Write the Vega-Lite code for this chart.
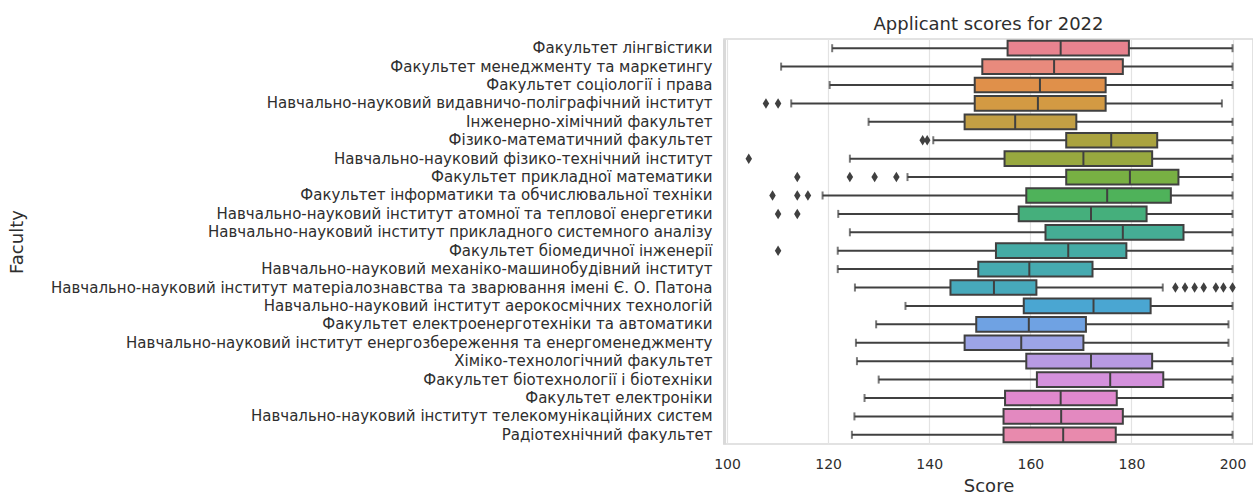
{
  "$schema": "https://vega.github.io/schema/vega-lite/v6.json",
  "autosize": "none",
  "width": 529,
  "height": 405,
  "padding": {"left": 724, "top": 39, "right": 0, "bottom": 50},
  "background": "white",
  "config": {
    "font": "DejaVu Sans",
    "view": {"stroke": "#d9d9d9", "strokeWidth": 1.5},
    "axis": {"labelFont": "DejaVu Sans", "titleFont": "DejaVu Sans", "labelColor": "#2e2e2e", "titleColor": "#2e2e2e", "titleFontWeight": "normal"}
  },
  "title": {"text": "Applicant scores for 2022", "fontSize": 18, "fontWeight": "normal", "color": "#2e2e2e", "font": "DejaVu Sans", "offset": 5},
  "datasets": {
    "boxes": [
      {"faculty": "Факультет лінгвістики", "lower": 120.8, "q1": 155.5, "median": 166.0, "q3": 179.5, "upper": 200},
      {"faculty": "Факультет менеджменту та маркетингу", "lower": 110.7, "q1": 150.5, "median": 164.7, "q3": 178.3, "upper": 200},
      {"faculty": "Факультет соціології і права", "lower": 120.3, "q1": 149.0, "median": 161.9, "q3": 174.9, "upper": 200},
      {"faculty": "Навчально-науковий видавничо-поліграфічний інститут", "lower": 112.7, "q1": 149.0, "median": 161.5, "q3": 174.9, "upper": 197.9},
      {"faculty": "Інженерно-хімічний факультет", "lower": 128.0, "q1": 147.0, "median": 157.0, "q3": 169.1, "upper": 200},
      {"faculty": "Фізико-математичний факультет", "lower": 140.8, "q1": 167.1, "median": 176.0, "q3": 185.1, "upper": 200},
      {"faculty": "Навчально-науковий фізико-технічний інститут", "lower": 124.3, "q1": 154.9, "median": 170.5, "q3": 184.1, "upper": 200},
      {"faculty": "Факультет прикладної математики", "lower": 135.7, "q1": 167.1, "median": 179.7, "q3": 189.3, "upper": 200},
      {"faculty": "Факультет інформатики та обчислювальної техніки", "lower": 118.9, "q1": 159.2, "median": 175.2, "q3": 187.8, "upper": 200},
      {"faculty": "Навчально-науковий інститут атомної та теплової енергетики", "lower": 122.0, "q1": 157.7, "median": 172.0, "q3": 183.0, "upper": 200},
      {"faculty": "Навчально-науковий інститут прикладного системного аналізу", "lower": 124.3, "q1": 163.0, "median": 178.3, "q3": 190.3, "upper": 200},
      {"faculty": "Факультет біомедичної інженерії", "lower": 121.9, "q1": 153.2, "median": 167.5, "q3": 179.0, "upper": 200},
      {"faculty": "Навчально-науковий механіко-машинобудівний інститут", "lower": 121.9, "q1": 149.7, "median": 159.8, "q3": 172.3, "upper": 200},
      {"faculty": "Навчально-науковий інститут матеріалознавства та зварювання імені Є. О. Патона", "lower": 125.3, "q1": 144.2, "median": 152.8, "q3": 161.2, "upper": 186.2},
      {"faculty": "Навчально-науковий інститут аерокосмічних технологій", "lower": 135.3, "q1": 158.7, "median": 172.5, "q3": 183.8, "upper": 200},
      {"faculty": "Факультет електроенерготехніки та автоматики", "lower": 129.5, "q1": 149.3, "median": 159.7, "q3": 171.0, "upper": 199.2},
      {"faculty": "Навчально-науковий інститут енергозбереження та енергоменеджменту", "lower": 125.5, "q1": 147.0, "median": 158.2, "q3": 170.5, "upper": 199.2},
      {"faculty": "Хіміко-технологічний факультет", "lower": 125.7, "q1": 159.2, "median": 172.0, "q3": 184.1, "upper": 200},
      {"faculty": "Факультет біотехнології і біотехніки", "lower": 130.0, "q1": 161.3, "median": 175.8, "q3": 186.3, "upper": 200},
      {"faculty": "Факультет електроніки", "lower": 127.2, "q1": 155.0, "median": 166.0, "q3": 177.1, "upper": 200},
      {"faculty": "Навчально-науковий інститут телекомунікаційних систем", "lower": 125.2, "q1": 154.7, "median": 166.1, "q3": 178.3, "upper": 200},
      {"faculty": "Радіотехнічний факультет", "lower": 124.7, "q1": 154.7, "median": 166.5, "q3": 176.9, "upper": 200}
    ],
    "outliers": [
      {"faculty": "Навчально-науковий видавничо-поліграфічний інститут", "score": 107.7},
      {"faculty": "Навчально-науковий видавничо-поліграфічний інститут", "score": 110.1},
      {"faculty": "Фізико-математичний факультет", "score": 138.7},
      {"faculty": "Фізико-математичний факультет", "score": 139.6},
      {"faculty": "Навчально-науковий фізико-технічний інститут", "score": 104.3},
      {"faculty": "Факультет прикладної математики", "score": 113.9},
      {"faculty": "Факультет прикладної математики", "score": 124.3},
      {"faculty": "Факультет прикладної математики", "score": 129.2},
      {"faculty": "Факультет прикладної математики", "score": 133.5},
      {"faculty": "Факультет інформатики та обчислювальної техніки", "score": 109.0},
      {"faculty": "Факультет інформатики та обчислювальної техніки", "score": 113.9},
      {"faculty": "Факультет інформатики та обчислювальної техніки", "score": 116.0},
      {"faculty": "Навчально-науковий інститут атомної та теплової енергетики", "score": 110.1},
      {"faculty": "Навчально-науковий інститут атомної та теплової енергетики", "score": 113.9},
      {"faculty": "Факультет біомедичної інженерії", "score": 110.1},
      {"faculty": "Навчально-науковий інститут матеріалознавства та зварювання імені Є. О. Патона", "score": 188.7},
      {"faculty": "Навчально-науковий інститут матеріалознавства та зварювання імені Є. О. Патона", "score": 190.6},
      {"faculty": "Навчально-науковий інститут матеріалознавства та зварювання імені Є. О. Патона", "score": 192.5},
      {"faculty": "Навчально-науковий інститут матеріалознавства та зварювання імені Є. О. Патона", "score": 194.3},
      {"faculty": "Навчально-науковий інститут матеріалознавства та зварювання імені Є. О. Патона", "score": 196.7},
      {"faculty": "Навчально-науковий інститут матеріалознавства та зварювання імені Є. О. Патона", "score": 198.2},
      {"faculty": "Навчально-науковий інститут матеріалознавства та зварювання імені Є. О. Патона", "score": 200.0}
    ]
  },
  "encoding": {
    "y": {
      "field": "faculty", "type": "nominal", "sort": null,
      "scale": {"paddingInner": 0, "paddingOuter": 0},
      "axis": {"title": "Faculty", "titleFontSize": 18, "titleX": -698, "labelFontSize": 15, "labelPadding": 12, "ticks": false, "domainColor": "#d9d9d9", "domainWidth": 3, "labelLimit": 720}
    }
  },
  "layer": [
    {
      "data": {"name": "boxes"},
      "mark": {"type": "rule", "color": "#404040", "strokeWidth": 2},
      "encoding": {
        "x": {"field": "lower", "type": "quantitative", "scale": {"domain": [99.4, 204.05], "nice": false, "zero": false},
          "axis": {"title": "Score", "titleFontSize": 18, "labelFontSize": 14, "values": [100, 120, 140, 160, 180, 200], "grid": true, "gridColor": "#e3e3e3", "gridWidth": 1.2, "ticks": false, "domain": false, "labelPadding": 13, "titlePadding": 6}},
        "x2": {"field": "upper"}
      }
    },
    {
      "data": {"name": "boxes"},
      "mark": {"type": "tick", "color": "#404040", "thickness": 2, "size": 8},
      "encoding": {"x": {"field": "lower", "type": "quantitative"}}
    },
    {
      "data": {"name": "boxes"},
      "mark": {"type": "tick", "color": "#404040", "thickness": 2, "size": 8},
      "encoding": {"x": {"field": "upper", "type": "quantitative"}}
    },
    {
      "data": {"name": "boxes"},
      "mark": {"type": "bar", "stroke": "#404040", "strokeWidth": 2, "size": 14.7, "opacity": 1},
      "encoding": {
        "x": {"field": "q1", "type": "quantitative"},
        "x2": {"field": "q3"},
        "color": {"field": "faculty", "type": "nominal", "sort": null, "legend": null,
          "scale": {"range": ["#e8838f", "#e88a7d", "#e0904a", "#d39a43", "#c39f44", "#aaa33f", "#98a83f", "#78b043", "#4fb25a", "#45af7c", "#45ad95", "#45aba5", "#46aab0", "#47a9bb", "#4aa6d2", "#6fa2e3", "#9ca4e6", "#b89ae3", "#d491dc", "#e088ce", "#e389c0", "#e88aad"]}}
      }
    },
    {
      "data": {"name": "boxes"},
      "mark": {"type": "tick", "color": "#404040", "thickness": 2, "size": 14.7, "opacity": 1},
      "encoding": {"x": {"field": "median", "type": "quantitative"}}
    },
    {
      "data": {"name": "outliers"},
      "mark": {"type": "point", "shape": "M0,-1L0.62,0L0,1L-0.62,0Z", "filled": true, "color": "#404040", "size": 110, "opacity": 1},
      "encoding": {"x": {"field": "score", "type": "quantitative"}}
    }
  ]
}
